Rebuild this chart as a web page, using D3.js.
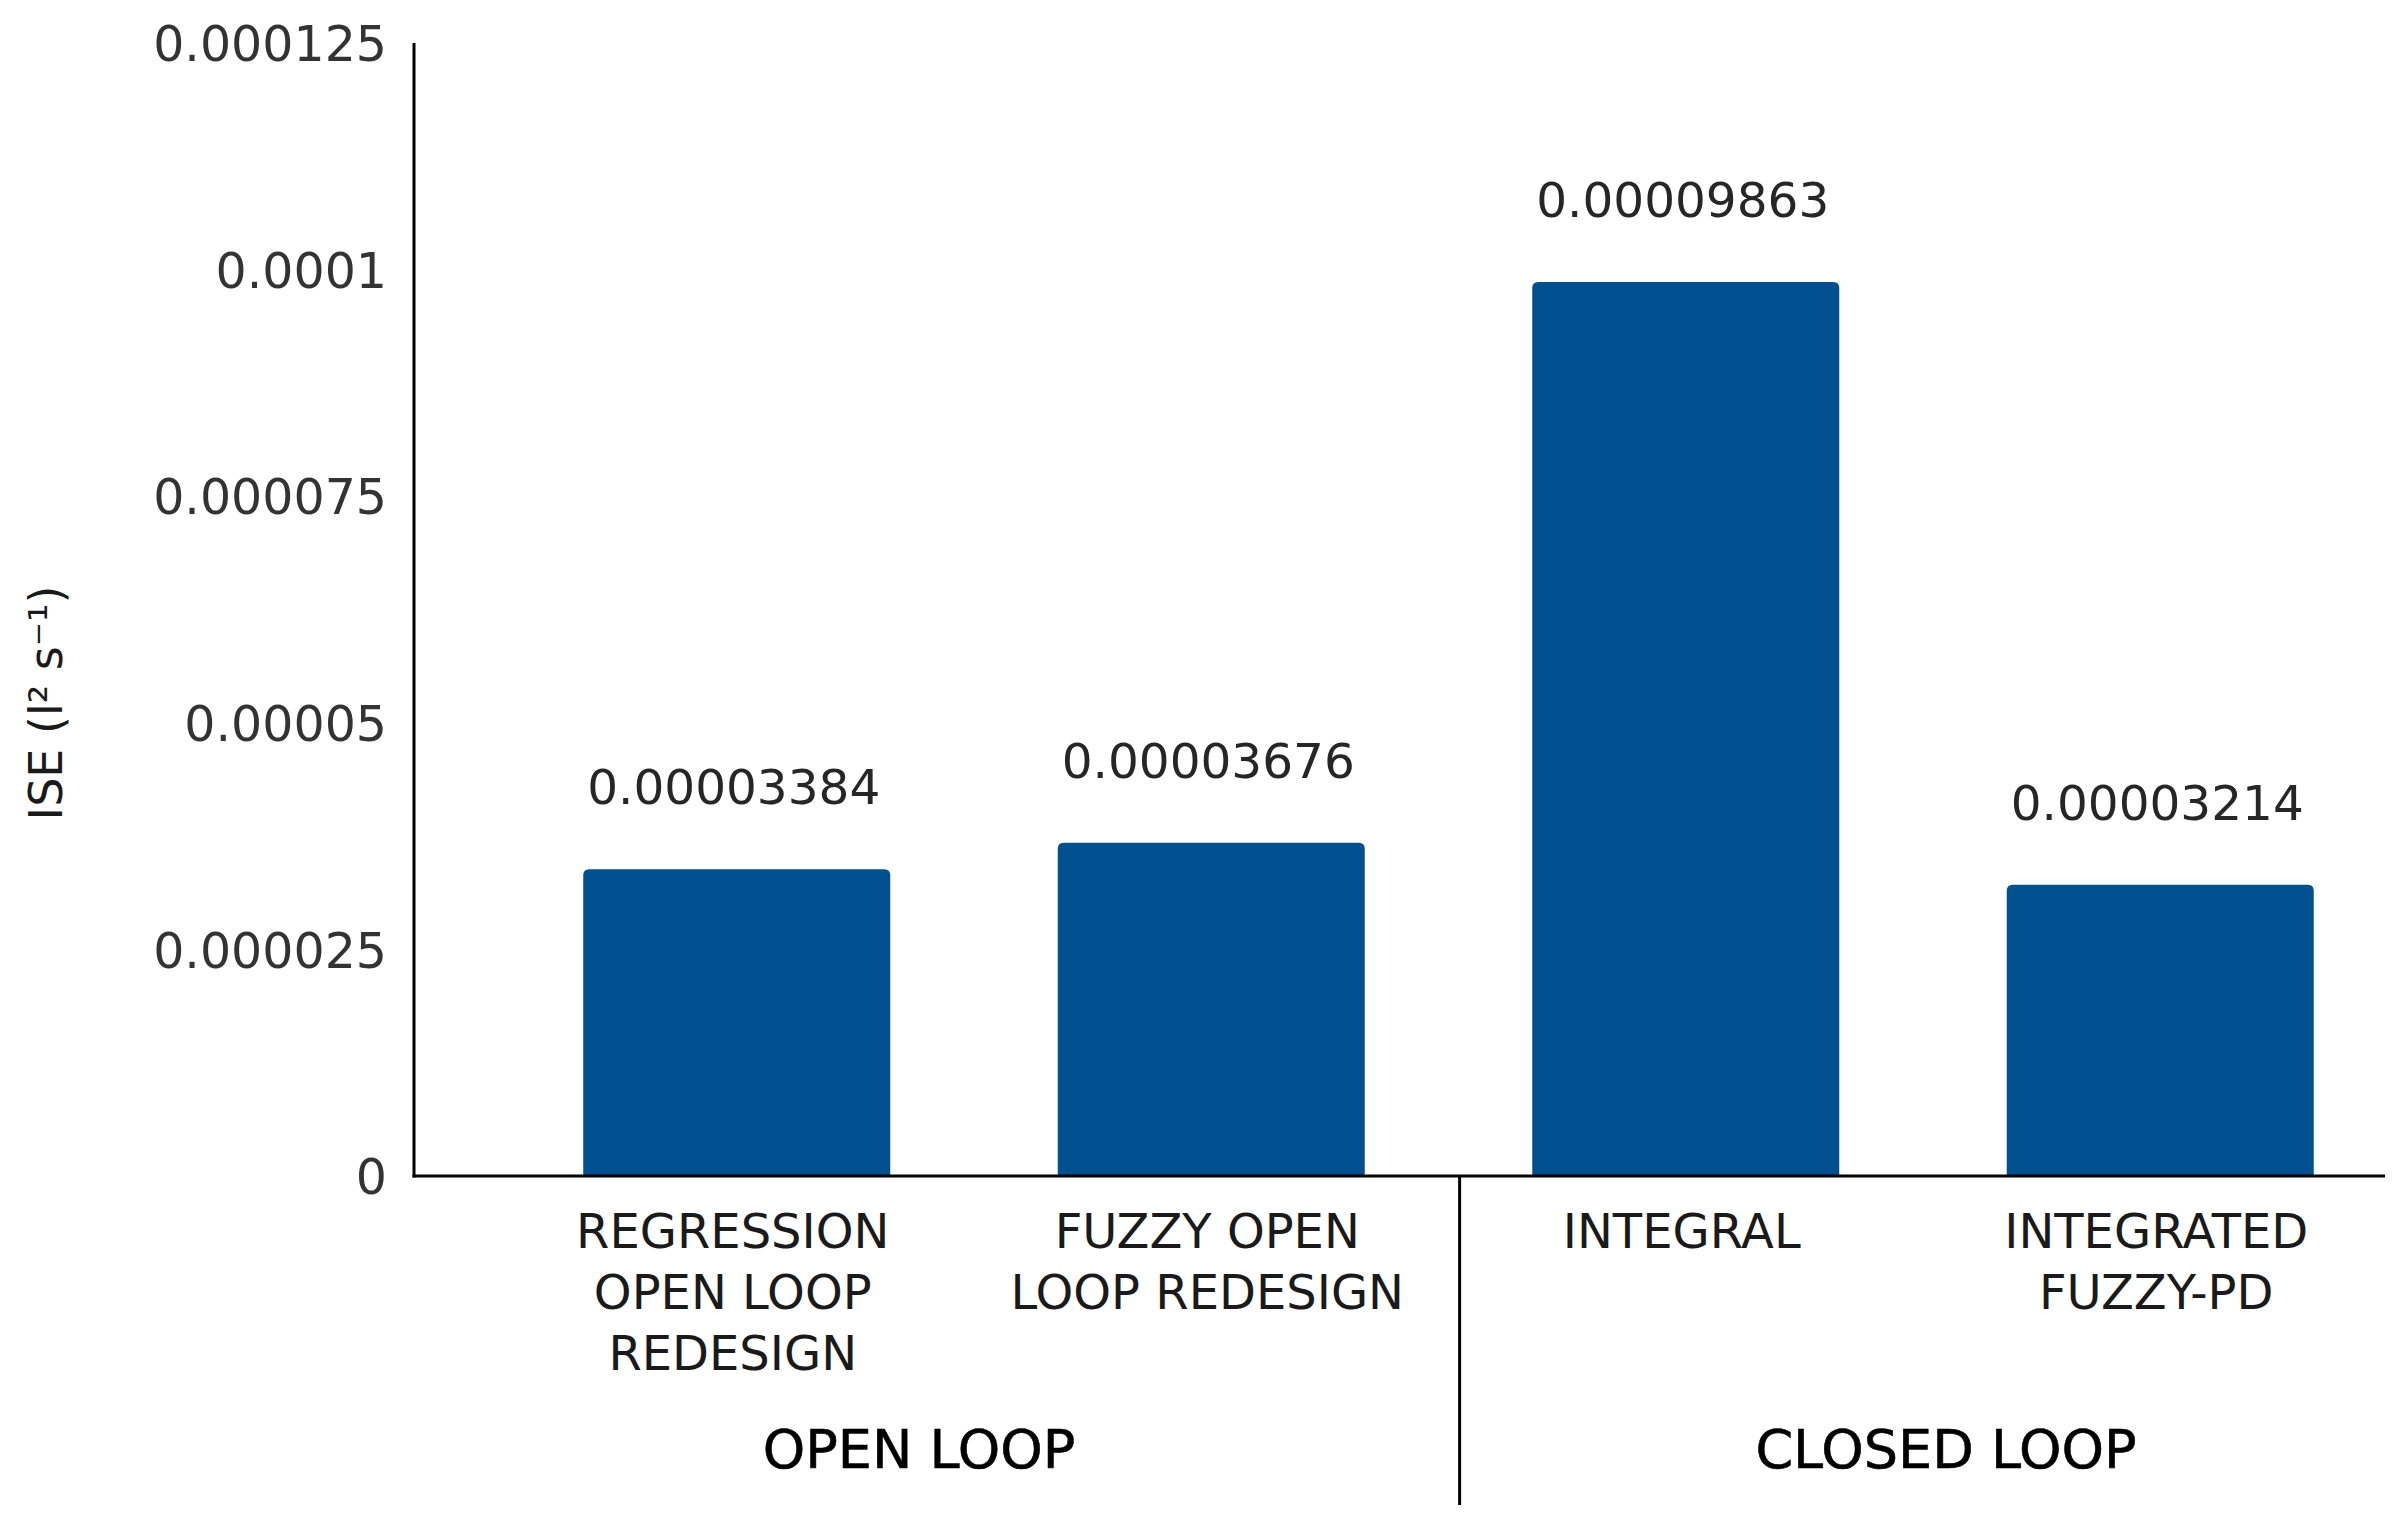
<!DOCTYPE html>
<html><head><meta charset="utf-8">
<script src="https://cdn.jsdelivr.net/npm/d3@7"></script>
<style>
html,body{margin:0;padding:0;background:#fff;}
svg{display:block;}
</style></head>
<body>
<svg id="chart" width="2408" height="1528"></svg>
<script>
const categories = [
  ["REGRESSION","OPEN LOOP","REDESIGN"],
  ["FUZZY OPEN","LOOP REDESIGN"],
  ["INTEGRAL"],
  ["INTEGRATED","FUZZY-PD"]
];
const categoryKeys = ["reg","fuzzyOpen","integral","intFuzzyPD"];
const values = [0.00003384, 0.00003676, 0.00009863, 0.00003214];
const valueLabels = ["0.00003384","0.00003676","0.00009863","0.00003214"];
const groups = ["OPEN LOOP","CLOSED LOOP"];
const groupSizes = [2, 2];
const tickValues = [0, 0.000025, 0.00005, 0.000075, 0.0001, 0.000125];
const tickLabels = ["0","0.000025","0.00005","0.000075","0.0001","0.000125"];
const yTitle = "ISE (l\u00B2 s\u207B\u00B9)";

const svg = d3.select("#chart");
const FONT = "'DejaVu Sans', Verdana, sans-serif";
const axisLeftX = 414, axisRightX = 2385;
const yTop = 43, yBottom = 1176;

const y = d3.scaleLinear().domain([0, 0.000125]).range([yBottom, yTop]);
const x = d3.scaleBand().domain(categoryKeys).range([499.5, 2397.5])
  .paddingInner(0.353).paddingOuter(0.1765);

// bars with rounded top corners
const r = 6;
svg.append("g").selectAll("path").data(values).join("path")
  .attr("fill", "#004F8F")
  .attr("d", (d, i) => {
    const x0 = x(categoryKeys[i]), w = x.bandwidth();
    const yt = y(d), yb = y(0);
    return `M${x0},${yb} L${x0},${yt + r} Q${x0},${yt} ${x0 + r},${yt} L${x0 + w - r},${yt} Q${x0 + w},${yt} ${x0 + w},${yt + r} L${x0 + w},${yb} Z`;
  });

// data labels
svg.append("g").selectAll("text").data(values).join("text")
  .attr("x", (d, i) => x(categoryKeys[i]) + x.bandwidth() / 2 - 3)
  .attr("y", d => y(d) - 65)
  .attr("text-anchor", "middle")
  .attr("font-family", FONT)
  .attr("font-size", 48.5)
  .attr("fill", "#262626")
  .text((d, i) => valueLabels[i]);

// y axis
const yAxis = d3.axisLeft(y).tickValues(tickValues).tickSize(0).tickPadding(27)
  .tickFormat((d, i) => tickLabels[i]);
const gy = svg.append("g").attr("transform", `translate(${axisLeftX},0)`).call(yAxis);
gy.select(".domain").remove();
gy.selectAll("text").attr("font-family", FONT).attr("font-size", 49).attr("fill", "#333")
  .attr("dy", "0.36em");

svg.append("line").attr("x1", axisLeftX).attr("x2", axisLeftX)
  .attr("y1", yTop).attr("y2", yBottom + 1.5)
  .attr("stroke", "#000").attr("stroke-width", 3);
svg.append("line").attr("x1", axisLeftX - 1.5).attr("x2", axisRightX)
  .attr("y1", yBottom).attr("y2", yBottom)
  .attr("stroke", "#000").attr("stroke-width", 3);

// category divider
const dividerX = axisLeftX + (axisRightX - axisLeftX) * 0.5305;
svg.append("line").attr("x1", dividerX).attr("x2", dividerX)
  .attr("y1", yBottom).attr("y2", 1505)
  .attr("stroke", "#000").attr("stroke-width", 3);

// category labels
const cat = svg.append("g").selectAll("text").data(categories).join("text")
  .attr("text-anchor", "middle")
  .attr("font-family", FONT)
  .attr("font-size", 48)
  .attr("fill", "#1a1a1a");
cat.each(function(lines, i) {
  const cx = x(categoryKeys[i]) + x.bandwidth() / 2 - 4;
  d3.select(this).selectAll("tspan").data(lines).join("tspan")
    .attr("x", cx).attr("y", (l, j) => 1248 + j * 61).text(l => l);
});

// group labels
const groupCenters = [919, 1946];
svg.append("g").selectAll("text").data(groups).join("text")
  .attr("x", (d, i) => groupCenters[i])
  .attr("y", 1468)
  .attr("text-anchor", "middle")
  .attr("font-family", FONT)
  .attr("font-size", 54)
  .attr("fill", "#000")
  .attr("stroke", "#000").attr("stroke-width", 0.6)
  .text(d => d);

// y title
svg.append("text")
  .attr("transform", `translate(62,703) rotate(-90)`)
  .attr("text-anchor", "middle")
  .attr("font-family", FONT)
  .attr("font-size", 46)
  .attr("fill", "#1a1a1a")
  .text(yTitle);
</script>
</body></html>
